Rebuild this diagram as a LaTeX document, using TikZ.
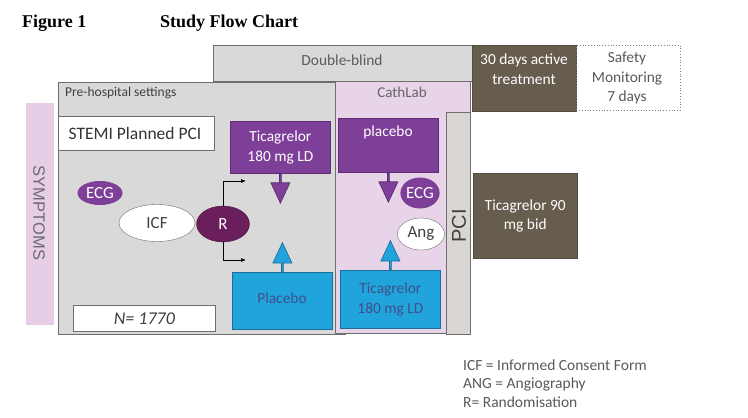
\documentclass[tikz,border=0pt]{standalone}
\usepackage{fontspec}
\setmainfont{Carlito}
\newfontfamily\arialfont{Liberation Sans}
\newfontfamily\timesfont{Liberation Serif}
\usetikzlibrary{positioning,shapes.geometric,shapes.arrows,arrows.meta}

\definecolor{boxgray}{HTML}{D9D9D9}
\definecolor{edgegray}{HTML}{6E6E6E}
\definecolor{cathpink}{HTML}{E8D4E8}
\definecolor{sympink}{HTML}{E6CEE6}
\definecolor{tpurple}{HTML}{7E3F98}
\definecolor{dpurple}{HTML}{5E2C72}
\definecolor{rpurple}{HTML}{6A1E5C}
\definecolor{tcyan}{HTML}{21A4DC}
\definecolor{dcyan}{HTML}{1B6E99}
\definecolor{cyantext}{HTML}{3F4F8A}
\definecolor{tbrown}{HTML}{675D4E}
\definecolor{pcigray}{HTML}{DAD6D4}
\definecolor{txtgray}{HTML}{5A5A5A}

\tikzset{
  region/.style={draw=edgegray, line width=0.8pt, inner sep=0, anchor=north west},
  drugbox/.style={draw=dpurple, fill=tpurple, line width=0.8pt, inner sep=0, anchor=north west},
  cyanbox/.style={draw=dcyan, fill=tcyan, line width=0.8pt, inner sep=0, anchor=north west},
  brownbox/.style={fill=tbrown, draw=tbrown!80!black, line width=0.5pt, inner sep=0, anchor=north west},
  blockarrow/.style={single arrow, draw, line width=0.7pt, minimum height=29, minimum width=19,
    single arrow head extend=3.5, single arrow tip angle=50, inner sep=0, anchor=tail},
  txt/.style={inner sep=0, font=\fontsize{15.4}{19.5}\selectfont, align=center},
  oval/.style={ellipse, inner sep=0, font=\fontsize{17}{19}\selectfont},
  legend/.style={inner sep=0, anchor=west, text=txtgray, font=\fontsize{15.5}{18}\selectfont}
}

\begin{document}
\begin{tikzpicture}[x=1pt,y=-1pt]
\fill[white] (0,0) rectangle (748,418);
\useasboundingbox (0,0) rectangle (748,418);

% title
\node[inner sep=0, anchor=west, font=\timesfont\bfseries\fontsize{18}{20}\selectfont] (fig) at (22,23) {Figure 1};
\node[inner sep=0, anchor=west, font=\timesfont\bfseries\fontsize{18}{20}\selectfont] (ttl) at (160,23) {Study Flow Chart};

% top row
\node[region, fill=boxgray, minimum width=259, minimum height=36] (dblind) at (213,45) {};
\node[txt, text=txtgray] (dbtxt) at (342,60) {Double-blind};
\node[brownbox, minimum width=104, minimum height=66] (active) at (472,45) {};
\node[txt, text=white] (acttxt) at (524,69) {30 days active\\treatment};
\node[draw=gray, dotted, line width=0.8pt, inner sep=0, anchor=north west, minimum width=104, minimum height=65] (safety) at (576,45) {};
\node[txt, text=txtgray] (saftxt) at (627,78) {Safety\\Monitoring\\7 days};

% symptoms
\node[fill=sympink, inner sep=0, minimum width=28, minimum height=222] (symp) at (40,214) {};
\node[inner sep=0, rotate=-90, text=gray!85!black, font=\arialfont\fontsize{16.5}{18}\selectfont] (symptxt) at (39,213) {SYMPTOMS};

% pre-hospital
\node[region, fill=boxgray, minimum width=287, minimum height=252] (prehosp) at (58,82) {};
\node[inner sep=0, anchor=west, text=black!75, font=\fontsize{13.5}{16}\selectfont] (prelbl) at (65,93) {Pre-hospital settings};
\node[region, fill=white, minimum width=156, minimum height=34] (stemi) at (58,116) {};
\node[inner sep=0, text=black!80, font=\fontsize{17.5}{20}\selectfont] (stemitxt) at (135,133) {STEMI Planned PCI};
\node[drugbox, minimum width=100, minimum height=52] (tica) at (230,121) {};
\node[txt, text=white] (ticatxt) at (tica.center) {Ticagrelor\\180 mg LD};
\node[cyanbox, minimum width=100, minimum height=57] (plac) at (232,272) {};
\node[txt, text=cyantext] (plactxt) at (282,298) {Placebo};
\node[blockarrow, fill=tpurple, draw=dpurple, rotate=-90] (arrT) at (tica.south) {};
\node[blockarrow, fill=tcyan, draw=dcyan, rotate=90] (arrP) at (plac.north) {};
\node[oval, fill=tpurple, text=white, minimum width=45, minimum height=24] (ecg) at (100,193) {ECG};
\node[oval, draw=edgegray, fill=white, text=black!75, minimum width=76, minimum height=37] (icf) at (157,223) {ICF};
\node[oval, draw=rpurple!70!black, fill=rpurple, text=white, minimum width=53, minimum height=36] (rand) at (223,224) {R};
\coordinate (toT) at (246,181);
\coordinate (toP) at (246,260);
\draw[-{Latex[length=5pt,width=4pt]}, line width=0.7pt] (rand.north) |- (toT);
\draw[-{Latex[length=5pt,width=4pt]}, line width=0.7pt] (rand.south) |- (toP);
\node[region, fill=white, minimum width=142, minimum height=26] (nbox) at (73,305) {};
\node[inner sep=0, text=black!75, font=\itshape\fontsize{18}{20}\selectfont] (ntxt) at (nbox.center) {N= 1770};

% cathlab
\node[region, fill=cathpink, minimum width=135, minimum height=252] (cath) at (335,81) {};
\node[inner sep=0, text=black!60, font=\fontsize{15}{17}\selectfont] (cathlbl) at (402,92) {CathLab};
\node[drugbox, minimum width=100, minimum height=54] (plcb) at (338,118) {};
\node[inner sep=0, text=white, font=\fontsize{15.4}{18}\selectfont] (plcbtxt) at (388,132) {placebo};
\node[cyanbox, minimum width=100, minimum height=58] (tica2) at (340,270) {};
\node[txt, text=cyantext] (tica2txt) at (tica2.center) {Ticagrelor\\180 mg LD};
\node[blockarrow, fill=tpurple, draw=dpurple, rotate=-90] (arrC1) at (plcb.south) {};
\node[blockarrow, fill=tcyan, draw=dcyan, rotate=90] (arrC2) at (tica2.north) {};
\node[oval, fill=tpurple, text=white, minimum width=33, minimum height=31] (ecg2) at (420,193) {ECG};
\node[oval, draw=edgegray, fill=white, text=black!75, minimum width=47, minimum height=32] (ang) at (421,234) {Ang};
\node[region, fill=pcigray, minimum width=24, minimum height=222] (pci) at (446,112) {};
\node[inner sep=0, rotate=90, text=black!75, font=\arialfont\fontsize{20}{22}\selectfont] (pcitxt) at (459,226) {PCI};

% maintenance
\node[brownbox, minimum width=104, minimum height=85] (main) at (473,173) {};
\node[txt, text=white] (maintxt) at (main.center) {Ticagrelor 90\\mg bid};

% legend
\node[legend] (lg1) at (463,365) {ICF = Informed Consent Form};
\node[legend] (lg2) at (463,384) {ANG = Angiography};
\node[legend] (lg3) at (463,402) {R= Randomisation};
\end{tikzpicture}
\end{document}
